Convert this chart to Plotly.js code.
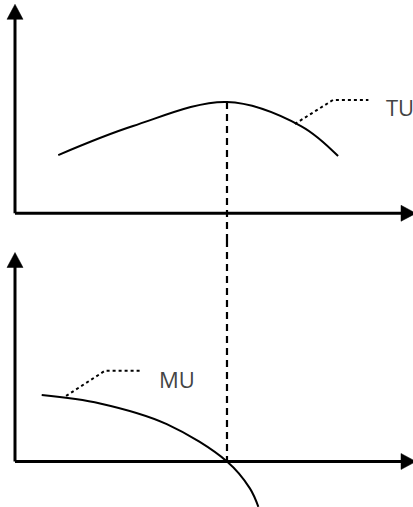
<!DOCTYPE html>
<html>
<head>
<meta charset="utf-8">
<script src="https://cdn.plot.ly/plotly-3.0.1.min.js"></script>
<style>html,body{margin:0;padding:0;background:#fff;}#chart{width:413px;height:507px;}</style>
</head>
<body>
<div id="chart"></div>
<script>
// Quantity consumed (x) and utility values
const tuQ = [2.04, 5.57, 10.0, 13.49, 15.24];
const tuVal = [52.3, 78.4, 100.0, 78.4, 51.4];

const muQ = [1.26, 4.01, 7.16, 10.0, 11.08, 11.48];
const muVal = [30.2, 26.4, 17.0, 0.0, -12.2, -20.6];

// Quantity where TU peaks / MU = 0
const peakQ = [10.0];
const peakTU = [100.0];

// Label leader lines
const tuLeaderQ = [13.2, 15.0, 16.67];
const tuLeaderVal = [80.2, 101.8, 101.8];
const muLeaderQ = [2.41, 4.25, 5.98];
const muLeaderVal = [29.8, 41.3, 41.3];

const labels = ['TU', 'MU'];
const labelQ = [17.40, 6.70];
const labelVal = [95.5, 37.7];

const xRange = [-0.7075, 18.774];
const tuRange = [-23.99, 191.6];
const muRange = [-20.68, 100.68];

const traces = [
  {x: tuQ, y: tuVal, xaxis: 'x', yaxis: 'y', mode: 'lines', line: {color: '#000', width: 2, shape: 'spline', smoothing: 1}, hoverinfo: 'skip'},
  {x: muQ, y: muVal, xaxis: 'x', yaxis: 'y2', mode: 'lines', line: {color: '#000', width: 2, shape: 'spline', smoothing: 1}, hoverinfo: 'skip'},
  {x: [peakQ[0], peakQ[0]], y: [peakTU[0], tuRange[0]], xaxis: 'x', yaxis: 'y', mode: 'lines', line: {color: '#000', width: 2.2, dash: '7px,5px'}, hoverinfo: 'skip'},
  {x: [peakQ[0], peakQ[0]], y: [muRange[1], 0], xaxis: 'x', yaxis: 'y2', mode: 'lines', line: {color: '#000', width: 2.2, dash: '7px,5px'}, hoverinfo: 'skip'},
  {x: tuLeaderQ, y: tuLeaderVal, xaxis: 'x', yaxis: 'y', mode: 'lines', line: {color: '#000', width: 2, dash: 'dot'}, hoverinfo: 'skip'},
  {x: muLeaderQ, y: muLeaderVal, xaxis: 'x', yaxis: 'y2', mode: 'lines', line: {color: '#000', width: 2, dash: 'dot'}, hoverinfo: 'skip'}
];

function axisShapes(yref) {
  const base = {xref: 'x', yref: yref, xsizemode: 'pixel', ysizemode: 'pixel', xanchor: 0, yanchor: 0, layer: 'above'};
  return [
    Object.assign({}, base, {type: 'path', path: 'M0,0 L0,195', line: {color: '#000', width: 3}}),
    Object.assign({}, base, {type: 'path', path: 'M0,0 L387,0', line: {color: '#000', width: 3}}),
    Object.assign({}, base, {type: 'path', path: 'M-8,194 L8,194 L0,209 Z', fillcolor: '#000', line: {color: '#000', width: 0.5}}),
    Object.assign({}, base, {type: 'path', path: 'M386,8 L386,-8 L401,0 Z', fillcolor: '#000', line: {color: '#000', width: 0.5}})
  ];
}

const layout = {
  width: 413, height: 507,
  margin: {l: 0, r: 0, t: 0, b: 0},
  paper_bgcolor: '#fff', plot_bgcolor: '#fff',
  showlegend: false,
  xaxis: {range: xRange, visible: false, fixedrange: true},
  yaxis: {range: tuRange, domain: [0.52663, 1], visible: false, fixedrange: true},
  yaxis2: {range: muRange, domain: [0, 0.52663], anchor: 'x', visible: false, fixedrange: true},
  shapes: axisShapes('y').concat(axisShapes('y2')),
  annotations: [
    {x: labelQ[0], y: labelVal[0], xref: 'x', yref: 'y', text: labels[0], showarrow: false, xanchor: 'left', yanchor: 'middle', font: {family: 'Open Sans', size: 22, color: '#444'}},
    {x: labelQ[1], y: labelVal[1], xref: 'x', yref: 'y2', text: labels[1], showarrow: false, xanchor: 'left', yanchor: 'middle', font: {family: 'Open Sans', size: 22, color: '#444'}}
  ]
};

Plotly.newPlot('chart', traces, layout, {staticPlot: true, displayModeBar: false});
</script>
</body>
</html>
